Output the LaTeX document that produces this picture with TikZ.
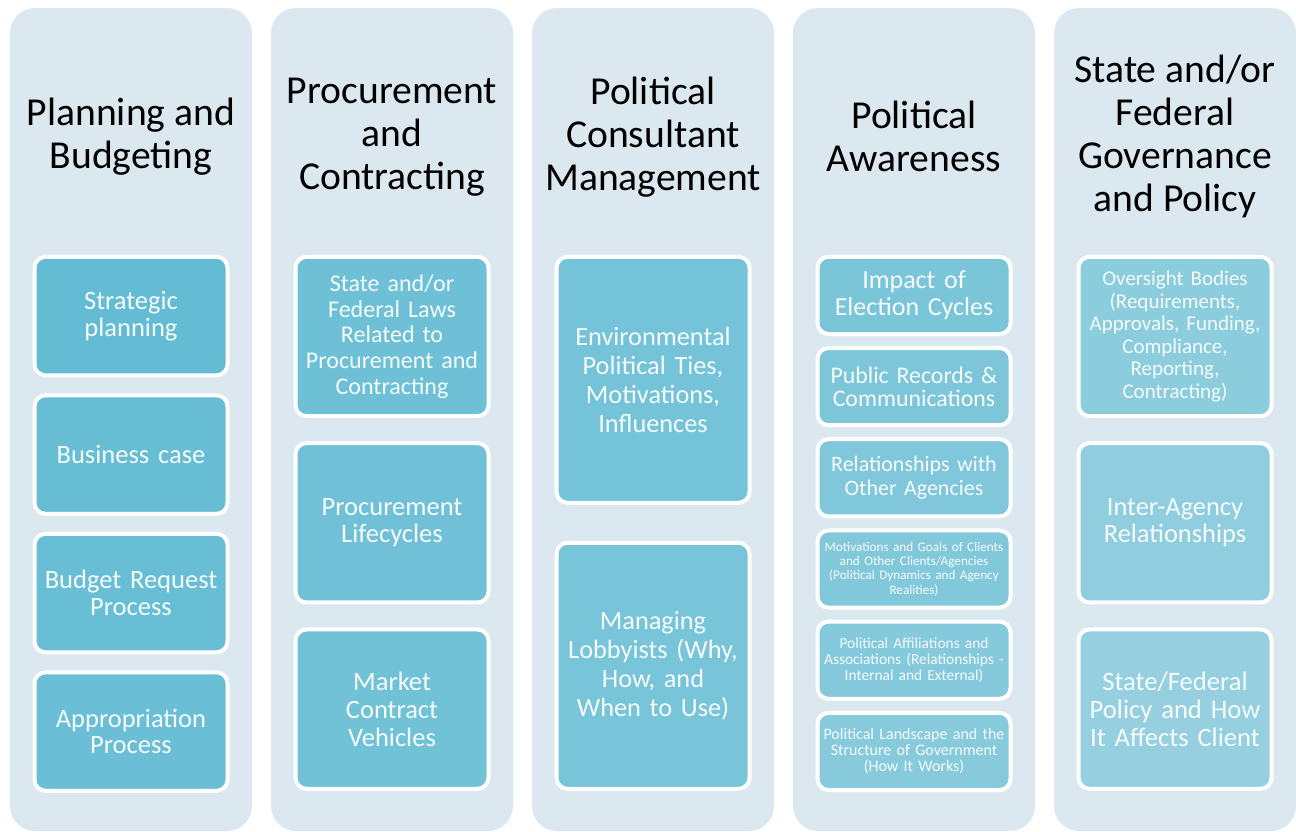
\documentclass[tikz,border=0pt]{standalone}
\usepackage{fontspec}
\setmainfont{Carlito}
\usepackage{xcolor}
\definecolor{panelgrey}{RGB}{219, 232, 239}
\definecolor{tealdeep}{RGB}{100, 188, 212}
\definecolor{teallight}{RGB}{150, 208, 224}
\definecolor{itemtext}{RGB}{246, 251, 252}
\usepackage{tikz}
\usetikzlibrary{positioning, calc}

\tikzset{
  panel/.style={rounded corners=25pt, fill=panelgrey, minimum width=242pt, minimum height=823pt, inner sep=0pt},
  heading/.style={align=center, text=black, font=\fontsize{39.6}{43}\selectfont},
  item/.style={rounded corners=11pt, draw=white, line width=4pt, minimum width=193pt, text width=186pt, align=center, text=itemtext, inner sep=0pt},
  fs/.style 2 args={font=\fontsize{#1}{#2}\selectfont}
}

\begin{document}
\begin{tikzpicture}[x=1pt, y=-1pt]
  \useasboundingbox (0,0) rectangle (1296,831);

  % five column panels
  \foreach \k in {1,...,5}
    \node[panel] (col\k) at ({131+261*(\k-1)}, 419.5) {};

  % column headings
  \node[heading] (head1) at ($(col1.north)+(0,129)$) {Planning and\\Budgeting};
  \node[heading] (head2) at ($(col2.north)+(0,129)$) {Procurement\\and\\Contracting};
  \node[heading] (head3) at ($(col3.north)+(0,129)$) {Political\\Consultant\\Management};
  \node[heading] (head4) at ($(col4.north)+(0,129)$) {Political\\Awareness};
  \node[heading] (head5) at ($(col5.north)+(0,129)$) {State and/or\\Federal\\Governance\\and Policy};

  % planning and budgeting
  \begin{scope}[every node/.style={item, minimum height=118.5pt, fs={26.5}{26.5}}]
    \node[fill=tealdeep] (plan1) at ($(col1.north)+(0,308.25)$) {Strategic\\planning};
    \node[fill=tealdeep!96!teallight] (plan2) at ($(col1.north)+(0,446.75)$) {Business case};
    \node[fill=tealdeep!92!teallight] (plan3) at ($(col1.north)+(0,585.25)$) {Budget Request\\Process};
    \node[fill=tealdeep!88!teallight] (plan4) at ($(col1.north)+(0,723.75)$) {Appropriation\\Process};
  \end{scope}

  % procurement and contracting
  \begin{scope}[every node/.style={item, minimum height=159.3pt}]
    \node[fill=tealdeep!82!teallight, fs={24}{25.7}] (proc1) at ($(col2.north)+(0,328.7)$) {State and/or\\Federal Laws\\Related to\\Procurement and\\Contracting};
    \node[fill=tealdeep!77!teallight, fs={26.5}{27}] (proc2) at ($(col2.north)+(0,515)$) {Procurement\\Lifecycles};
    \node[fill=tealdeep!72!teallight, fs={26.5}{28}] (proc3) at ($(col2.north)+(0,701.3)$) {Market\\Contract\\Vehicles};
  \end{scope}

  % political consultant management
  \begin{scope}[every node/.style={item, minimum height=246pt, fs={26.3}{29}}]
    \node[fill=tealdeep!66!teallight] (cons1) at ($(col3.north)+(0,372)$) {Environmental\\Political Ties,\\Motivations,\\Influences};
    \node[fill=tealdeep!60!teallight] (cons2) at ($(col3.north)+(0,658)$) {Managing\\Lobbyists (Why,\\How, and\\When to Use)};
  \end{scope}

  % political awareness
  \begin{scope}[every node/.style={item, minimum height=77.2pt}]
    \node[fill=tealdeep!55!teallight, fs={26}{27}] (aware1) at ($(col4.north)+(0,287.6)$) {Impact of\\Election Cycles};
    \node[fill=tealdeep!50!teallight, fs={23.8}{23.5}] (aware2) at ($(col4.north)+(0,378.8)$) {Public Records \&\\Communications};
    \node[fill=tealdeep!45!teallight, fs={22}{24}] (aware3) at ($(col4.north)+(0,470)$) {Relationships with\\Other Agencies};
    \node[fill=tealdeep!40!teallight, fs={13.2}{14.3}] (aware4) at ($(col4.north)+(0,561.2)$) {Motivations and Goals of Clients\\and Other Clients/Agencies\\(Political Dynamics and Agency\\Realities)};
    \node[fill=tealdeep!35!teallight, fs={15.4}{16}] (aware5) at ($(col4.north)+(0,652.4)$) {Political Affiliations and\\Associations (Relationships -\\Internal and External)};
    \node[fill=tealdeep!30!teallight, fs={16}{16}] (aware6) at ($(col4.north)+(0,743.6)$) {Political Landscape and the\\Structure of Government\\(How It Works)};
  \end{scope}

  % governance and policy
  \begin{scope}[every node/.style={item, minimum height=159.3pt}]
    \node[fill=tealdeep!22!teallight, fs={21}{22.6}] (gov1) at ($(col5.north)+(0,328.7)$) {Oversight Bodies\\(Requirements,\\Approvals, Funding,\\Compliance,\\Reporting,\\Contracting)};
    \node[fill=tealdeep!12!teallight, fs={26.4}{27}] (gov2) at ($(col5.north)+(0,515)$) {Inter-Agency\\Relationships};
    \node[fill=teallight, fs={26.6}{28}] (gov3) at ($(col5.north)+(0,701.3)$) {State/Federal\\Policy and How\\It Affects Client};
  \end{scope}
\end{tikzpicture}
\end{document}
